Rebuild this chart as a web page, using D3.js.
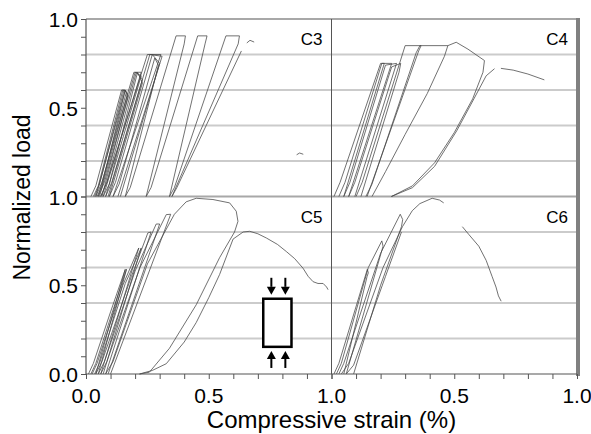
<!DOCTYPE html>
<html>
<head>
<meta charset="utf-8">
<script src="https://cdn.jsdelivr.net/npm/d3@7"></script>
<style>
  body { margin: 0; background: #fff; }
  text { font-family: "Liberation Sans", Arial, sans-serif; fill: #000; }
</style>
</head>
<body>
<div id="vis"></div>
<script>
/* cyclic load vs strain, one array of curves per specimen */
var c3Curves = [
  [[0.020,0],[0.040,0.06],[0.145,0.60],[0.160,0.60],[0.140,0.50],[0.040,0]],
  [[0.030,0],[0.050,0.06],[0.150,0.60],[0.165,0.59],[0.050,0]],
  [[0.035,0],[0.055,0.07],[0.155,0.60],[0.170,0.58],[0.055,0]],
  [[0.045,0],[0.065,0.06],[0.160,0.60],[0.170,0.56],[0.065,0]],
  [[0.040,0],[0.065,0.08],[0.195,0.70],[0.225,0.70],[0.070,0]],
  [[0.050,0],[0.075,0.08],[0.200,0.70],[0.225,0.68],[0.080,0]],
  [[0.060,0],[0.085,0.08],[0.205,0.70],[0.230,0.66],[0.090,0]],
  [[0.070,0],[0.095,0.07],[0.210,0.70],[0.230,0.64],[0.095,0]],
  [[0.060,0],[0.085,0.08],[0.250,0.80],[0.305,0.80],[0.110,0]],
  [[0.080,0],[0.105,0.08],[0.260,0.80],[0.310,0.79],[0.130,0]],
  [[0.095,0],[0.120,0.08],[0.270,0.80],[0.300,0.75],[0.140,0]],
  [[0.110,0],[0.135,0.07],[0.280,0.78],[0.295,0.74],[0.160,0]],
  [[0.160,0],[0.180,0.05],[0.367,0.905],[0.405,0.905],[0.400,0.86],[0.245,0]],
  [[0.245,0],[0.265,0.05],[0.455,0.905],[0.493,0.905],[0.485,0.86],[0.340,0]],
  [[0.340,0],[0.360,0.05],[0.570,0.905],[0.625,0.905],[0.620,0.86],[0.350,0]],
  [[0.350,0],[0.370,0.05],[0.633,0.82]],
  [[0.655,0.865],[0.668,0.88],[0.685,0.87]],
  [[0.858,0.235],[0.870,0.245],[0.885,0.238]]
];

var c4Curves = [
  [[0.010,0],[0.035,0.08],[0.200,0.75],[0.215,0.75],[0.050,0]],
  [[0.030,0],[0.055,0.08],[0.205,0.75],[0.245,0.75],[0.070,0]],
  [[0.050,0],[0.075,0.08],[0.220,0.74],[0.265,0.75],[0.095,0]],
  [[0.070,0],[0.095,0.08],[0.245,0.73],[0.282,0.75],[0.275,0.70],[0.120,0]],
  [[0.100,0],[0.125,0.08],[0.300,0.85],[0.365,0.85],[0.355,0.82],[0.145,0]],
  [[0.140,0],[0.165,0.07],[0.345,0.81],[0.360,0.85],[0.474,0.85],[0.460,0.79],
   [0.390,0.58],[0.300,0.35],[0.220,0.14],[0.165,0]],
  [[0.474,0.85],[0.508,0.869],[0.556,0.83],[0.623,0.766],[0.617,0.70],[0.575,0.55],
   [0.500,0.36],[0.420,0.19],[0.330,0.06],[0.244,0]],
  [[0.244,0],[0.330,0.05],[0.420,0.17],[0.510,0.37],[0.580,0.55],[0.630,0.68],[0.664,0.72]],
  [[0.690,0.722],[0.740,0.712],[0.800,0.69],[0.867,0.657]]
];

var c5Curves = [
  [[0.010,0],[0.030,0.06],[0.100,0.35],[0.160,0.59],[0.040,0]],
  [[0.020,0],[0.040,0.06],[0.110,0.36],[0.165,0.59],[0.050,0]],
  [[0.025,0],[0.045,0.06],[0.150,0.50],[0.215,0.71],[0.060,0]],
  [[0.035,0],[0.055,0.06],[0.160,0.51],[0.225,0.71],[0.070,0]],
  [[0.040,0],[0.065,0.07],[0.185,0.55],[0.252,0.795],[0.265,0.80],[0.080,0]],
  [[0.050,0],[0.075,0.07],[0.200,0.58],[0.286,0.845],[0.300,0.845],[0.090,0]],
  [[0.060,0],[0.085,0.07],[0.220,0.60],[0.327,0.898],[0.345,0.90],[0.100,0]],
  [[0.080,0],[0.110,0.07],[0.250,0.62],[0.360,0.90],[0.408,0.97],[0.449,0.99],
   [0.517,0.983],[0.585,0.964],[0.612,0.917],[0.619,0.86],[0.605,0.80],[0.544,0.655],
   [0.449,0.39],[0.340,0.145],[0.258,0.01],[0.218,0]],
  [[0.218,0],[0.270,0.02],[0.327,0.058],[0.400,0.18],[0.449,0.29],[0.500,0.43],
   [0.544,0.56],[0.599,0.76],[0.640,0.80],[0.667,0.804],[0.700,0.79],[0.735,0.766],
   [0.780,0.73],[0.816,0.69],[0.850,0.65],[0.884,0.596],[0.905,0.55],[0.925,0.52],
   [0.945,0.51],[0.966,0.51],[0.980,0.49],[0.986,0.475]]
];

var c6Curves = [
  [[0.010,0],[0.030,0.06],[0.146,0.59],[0.150,0.57],[0.145,0.55],[0.050,0]],
  [[0.020,0],[0.040,0.06],[0.150,0.60],[0.205,0.75],[0.210,0.72],[0.060,0]],
  [[0.030,0],[0.050,0.06],[0.200,0.68],[0.280,0.90],[0.290,0.87],[0.285,0.83],[0.200,0.50],[0.090,0]],
  [[0.040,0],[0.070,0.06],[0.210,0.60],[0.289,0.83],[0.329,0.92],[0.360,0.96],[0.410,0.99],
   [0.440,0.98],[0.457,0.964]],
  [[0.060,0],[0.090,0.05],[0.220,0.55],[0.285,0.80]],
  [[0.533,0.83],[0.560,0.785],[0.600,0.72],[0.630,0.64],[0.654,0.55],[0.670,0.49],
   [0.680,0.44],[0.691,0.41]]
];

var panelNames = ['C3', 'C4', 'C5', 'C6'];
var gridLevels = [0.2, 0.4, 0.6, 0.8];
var minorTicks = d3.range(0, 11).map(function(i) { return i / 10; });
var topYLabels = [0.5, 1.0],
    bottomYLabels = [0, 0.5, 1.0],
    leftXLabels = [0, 0.5, 1.0],
    rightXLabels = [0.5, 1.0];

/* specimen sketch: loaded block, in C5 units */
var sketchBox = [0.722, 0.837, 0.153, 0.424];
var sketchArrowsX = [0.755, 0.812];
var sketchArrowTop = [0.542, 0.446],
    sketchArrowBottom = [0.034, 0.130];

var width = 591, height = 434;
var margins = { left: 86, right: 14, top: 19, bottom: 60 };
var plotW = width - margins.left - margins.right,
    plotH = height - margins.top - margins.bottom;
var midX = margins.left + plotW / 2,
    midY = margins.top + plotH / 2;

var svg = d3.select('#vis').append('svg')
  .attr('width', width)
  .attr('height', height);

var xLeft = d3.scaleLinear().domain([0, 1]).range([margins.left, midX]),
    xRight = d3.scaleLinear().domain([0, 1]).range([midX, margins.left + plotW]),
    yTop = d3.scaleLinear().domain([0, 1]).range([midY, margins.top]),
    yBottom = d3.scaleLinear().domain([0, 1]).range([margins.top + plotH, midY]);

var panels = [
  { name: panelNames[0], curves: c3Curves, x: xLeft, y: yTop },
  { name: panelNames[1], curves: c4Curves, x: xRight, y: yTop },
  { name: panelNames[2], curves: c5Curves, x: xLeft, y: yBottom },
  { name: panelNames[3], curves: c6Curves, x: xRight, y: yBottom }
];

/* grid lines across the whole width */
[yTop, yBottom].forEach(function(y) {
  svg.append('g').selectAll('line')
    .data(gridLevels)
    .enter().append('line')
      .attr('x1', margins.left)
      .attr('x2', margins.left + plotW)
      .attr('y1', function(d) { return y(d); })
      .attr('y2', function(d) { return y(d); })
      .attr('stroke', '#cbcbcb')
      .attr('stroke-width', 2);
});

/* frame */
svg.append('line')
  .attr('x1', margins.left).attr('x2', margins.left + plotW)
  .attr('y1', yTop(1)).attr('y2', yTop(1))
  .attr('stroke', '#a8a8a8').attr('stroke-width', 2);
svg.append('line')
  .attr('x1', margins.left).attr('x2', margins.left + plotW)
  .attr('y1', midY).attr('y2', midY)
  .attr('stroke', '#a8a8a8').attr('stroke-width', 2);
svg.append('line')
  .attr('x1', margins.left + plotW + 1).attr('x2', margins.left + plotW + 1)
  .attr('y1', margins.top - 1).attr('y2', margins.top + plotH + 2)
  .attr('stroke', '#808080').attr('stroke-width', 4);
svg.append('line')
  .attr('x1', midX).attr('x2', midX)
  .attr('y1', margins.top).attr('y2', margins.top + plotH)
  .attr('stroke', '#555').attr('stroke-width', 1);

/* curves */
panels.forEach(function(p) {
  var gen = d3.line()
    .x(function(d) { return p.x(d[0]); })
    .y(function(d) { return p.y(d[1]); });

  svg.append('g').selectAll('path')
    .data(p.curves)
    .enter().append('path')
      .attr('d', gen)
      .attr('fill', 'none')
      .attr('stroke', '#444')
      .attr('stroke-opacity', 0.85)
      .attr('stroke-linejoin', 'round')
      .attr('stroke-width', 0.9);

  svg.append('text')
    .attr('x', p.x(1) - 9)
    .attr('y', p.y(1) + 26)
    .attr('text-anchor', 'end')
    .style('font-size', '17px')
    .text(p.name);
});

/* axes: minor ticks then labels */
function tickAxis(axis, g) {
  g.call(axis);
  g.select('.domain').remove();
  g.selectAll('.tick line').attr('stroke', '#555');
}

[yTop, yBottom].forEach(function(y) {
  tickAxis(d3.axisLeft(y).tickValues(minorTicks).tickSize(5).tickFormat(''),
    svg.append('g').attr('transform', 'translate(' + margins.left + ',0)'));
});
[xLeft, xRight].forEach(function(x) {
  tickAxis(d3.axisBottom(x).tickValues(minorTicks).tickSize(5).tickFormat(''),
    svg.append('g').attr('transform', 'translate(0,' + (margins.top + plotH) + ')'));
});

svg.append('line')
  .attr('x1', margins.left).attr('x2', margins.left)
  .attr('y1', margins.top).attr('y2', margins.top + plotH)
  .attr('stroke', '#555').attr('stroke-width', 1.2);
svg.append('line')
  .attr('x1', margins.left).attr('x2', margins.left + plotW)
  .attr('y1', margins.top + plotH).attr('y2', margins.top + plotH)
  .attr('stroke', '#555').attr('stroke-width', 1.2);

var fmt = d3.format('.1f');

function yLabels(y, values) {
  svg.append('g').selectAll('text')
    .data(values)
    .enter().append('text')
      .attr('x', margins.left - 8)
      .attr('y', function(d) { return y(d) + 8; })
      .attr('text-anchor', 'end')
      .style('font-size', '21px')
      .text(fmt);
}
function xLabels(x, values) {
  svg.append('g').selectAll('text')
    .data(values)
    .enter().append('text')
      .attr('x', function(d) { return x(d); })
      .attr('y', margins.top + plotH + 29)
      .attr('text-anchor', 'middle')
      .style('font-size', '21px')
      .text(fmt);
}

yLabels(yTop, topYLabels);
yLabels(yBottom, bottomYLabels);
xLabels(xLeft, leftXLabels);
xLabels(xRight, rightXLabels);

svg.append('text')
  .attr('transform', 'translate(30,' + (midY + 1) + ') rotate(-90)')
  .attr('text-anchor', 'middle')
  .style('font-size', '23px')
  .text('Normalized load');

svg.append('text')
  .attr('x', midX)
  .attr('y', 428)
  .attr('text-anchor', 'middle')
  .style('font-size', '24px')
  .text('Compressive strain (%)');

/* loaded specimen sketch */
var sketch = svg.append('g');
sketch.append('rect')
  .attr('x', xLeft(sketchBox[0]))
  .attr('y', yBottom(sketchBox[3]))
  .attr('width', xLeft(sketchBox[1]) - xLeft(sketchBox[0]))
  .attr('height', yBottom(sketchBox[2]) - yBottom(sketchBox[3]))
  .attr('fill', '#fff')
  .attr('stroke', '#000')
  .attr('stroke-width', 2.5);

function arrow(x, from, to) {
  var x0 = xLeft(x), y0 = yBottom(from), y1 = yBottom(to),
      dir = y1 > y0 ? 1 : -1, head = 8;
  sketch.append('line')
    .attr('x1', x0).attr('x2', x0)
    .attr('y1', y0).attr('y2', y1 - dir * head)
    .attr('stroke', '#000').attr('stroke-width', 2);
  sketch.append('path')
    .attr('d', 'M' + (x0 - 4.5) + ',' + (y1 - dir * head) +
               'L' + (x0 + 4.5) + ',' + (y1 - dir * head) +
               'L' + x0 + ',' + y1 + 'Z')
    .attr('fill', '#000');
}
sketchArrowsX.forEach(function(x) {
  arrow(x, sketchArrowTop[0], sketchArrowTop[1]);
  arrow(x, sketchArrowBottom[0], sketchArrowBottom[1]);
});
</script>
</body>
</html>
